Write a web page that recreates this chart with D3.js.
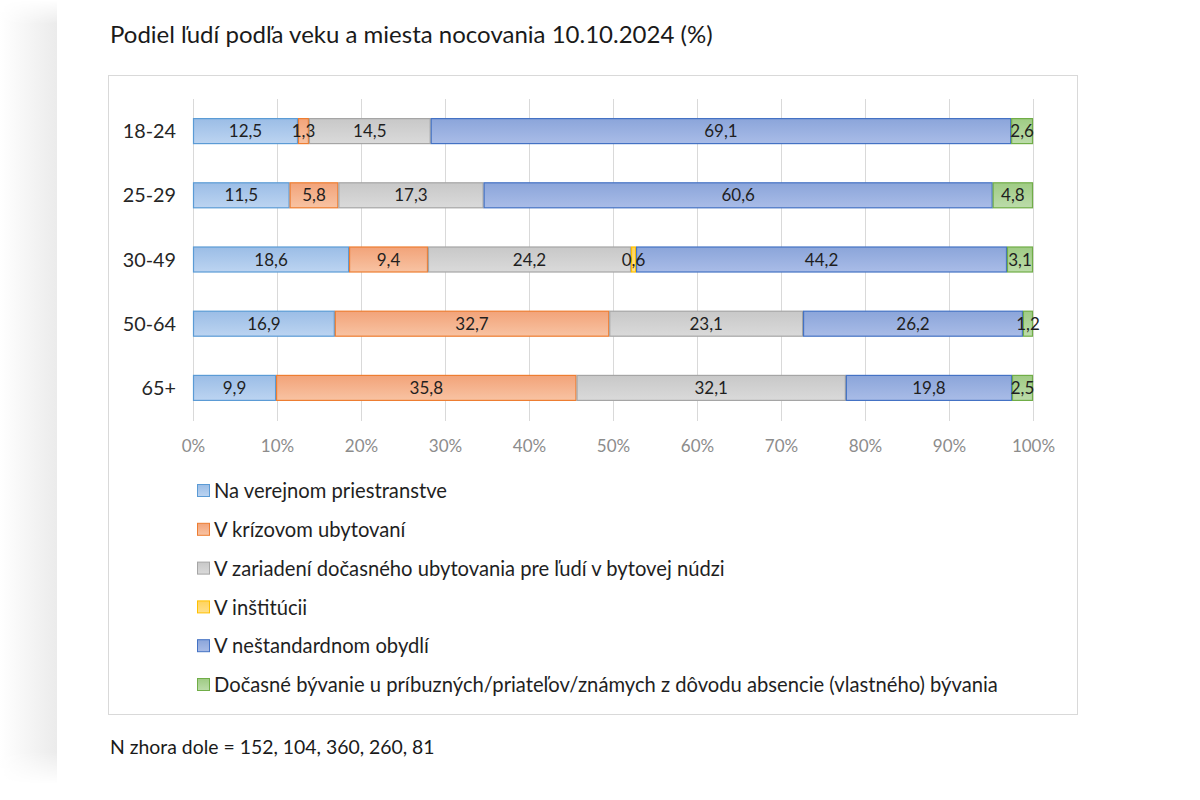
<!DOCTYPE html>
<html><head><meta charset="utf-8">
<script src="https://cdn.jsdelivr.net/npm/d3@7"></script>
<style>
html,body{margin:0;padding:0;background:#fff;}
svg{display:block;}
text{font-family:Lato,"Open Sans",sans-serif;}
</style></head>
<body>
<svg id="chart" width="1200" height="800"></svg>
<script>
const title = "Podiel ľudí podľa veku a miesta nocovania 10.10.2024 (%)";
const footnote = "N zhora dole = 152, 104, 360, 260, 81";
const categories = ["18-24","25-29","30-49","50-64","65+"];
const seriesNames = [
  "Na verejnom priestranstve",
  "V krízovom ubytovaní",
  "V zariadení dočasného ubytovania pre ľudí v bytovej núdzi",
  "V inštitúcii",
  "V neštandardnom obydlí",
  "Dočasné bývanie u príbuzných/priateľov/známych z dôvodu absencie (vlastného) bývania"
];
const verejne   = [12.5, 11.5, 18.6, 16.9, 9.9];
const krizove   = [1.3, 5.8, 9.4, 32.7, 35.8];
const zariadenie= [14.5, 17.3, 24.2, 23.1, 32.1];
const institucia= [0, 0, 0.6, 0, 0];
const nestandard= [69.1, 60.6, 44.2, 26.2, 19.8];
const docasne   = [2.6, 4.8, 3.1, 1.2, 2.5];
const xTicks = [0,0.1,0.2,0.3,0.4,0.5,0.6,0.7,0.8,0.9,1];

const fills  = [["#9bbde6","#bcd4f1"],["#f2a379","#f8c3a3"],["#c8c8c8","#dadada"],["#ffd35c","#ffe08c"],["#8ba5da","#a9bce7"],["#9fcb84","#bcdcaa"]];
const strokes= ["#5b9bd5","#ed7d31","#a5a5a5","#ffc000","#4472c4","#70ad47"];

const allSeries = [verejne,krizove,zariadenie,institucia,nestandard,docasne];
const keys = seriesNames.map((d,i)=>"s"+i);
const table = categories.map((c,ci)=>{
  const o={cat:c};
  allSeries.forEach((s,si)=>o["s"+si]=s[ci]);
  return o;
});

const svg = d3.select("#chart");
const defs = svg.append("defs");

// left page shadow
const sh = defs.append("linearGradient").attr("id","shadow").attr("x1","0").attr("x2","1").attr("y1","0").attr("y2","0");
sh.append("stop").attr("offset","0%").attr("stop-color","#ffffff");
sh.append("stop").attr("offset","50%").attr("stop-color","#f5f5f5");
sh.append("stop").attr("offset","100%").attr("stop-color","#ebebeb");
const shv = defs.append("linearGradient").attr("id","shadowV").attr("x1","0").attr("x2","0").attr("y1","0").attr("y2","1");
shv.append("stop").attr("offset","0%").attr("stop-color","#000");
shv.append("stop").attr("offset","3%").attr("stop-color","#fff");
shv.append("stop").attr("offset","94%").attr("stop-color","#fff");
shv.append("stop").attr("offset","98%").attr("stop-color","#000");
const mask = defs.append("mask").attr("id","m1");
mask.append("rect").attr("x",0).attr("y",0).attr("width",57).attr("height",800).attr("fill","url(#shadowV)");
svg.append("rect").attr("x",0).attr("y",0).attr("width",57).attr("height",800).attr("fill","url(#shadow)").attr("mask","url(#m1)");

fills.forEach((f,i)=>{
  const g = defs.append("linearGradient").attr("id","g"+i).attr("x1","0").attr("x2","0").attr("y1","0").attr("y2","1");
  g.append("stop").attr("offset","0%").attr("stop-color",f[0]);
  g.append("stop").attr("offset","100%").attr("stop-color",f[1]);
});

// title
svg.append("text").attr("x",110).attr("y",43).attr("font-size",24).attr("fill","#1a1a1a").text(title);

// chart box
svg.append("rect").attr("x",108.5).attr("y",75.5).attr("width",969).attr("height",639)
  .attr("fill","#fff").attr("stroke","#d9d9d9").attr("stroke-width",1);

const x = d3.scaleLinear().domain([0,1]).range([193,1033]);
const y = d3.scaleBand().domain(categories).range([99,420]).paddingInner(0.595).paddingOuter(0.2975);

// gridlines
svg.append("g").selectAll("line").data(xTicks).join("line")
  .attr("x1",d=>Math.round(x(d))+0.5).attr("x2",d=>Math.round(x(d))+0.5)
  .attr("y1",99).attr("y2",421)
  .attr("stroke","#d9d9d9").attr("stroke-width",1);

// x axis labels
const xAxis = d3.axisBottom(x).tickValues(xTicks).tickFormat(d3.format(".0%")).tickSize(0).tickPadding(0);
const xg = svg.append("g").attr("transform","translate(0,446)").call(xAxis);
xg.select(".domain").remove();
xg.selectAll("text").attr("font-family","Lato").attr("font-size",17).attr("fill","#8c8c8c").attr("dy","0.36em");

// y axis labels
const yAxis = d3.axisLeft(y).tickSize(0).tickPadding(0);
const yg = svg.append("g").attr("transform","translate(176,0)").call(yAxis);
yg.select(".domain").remove();
yg.selectAll("text").attr("font-family","Lato").attr("font-size",19.8).attr("fill","#262626").attr("dy","0.36em");

// stacks
const stack = d3.stack().keys(keys).offset(d3.stackOffsetExpand);
const layers = stack(table);
const fmt = v => String(v).replace(".",",");

layers.forEach((layer,li)=>{
  const g = svg.append("g");
  g.selectAll("rect").data(layer.filter(d=>d.data[layer.key]>0)).join("rect")
    .attr("x",d=>x(d[0])+0.5).attr("width",d=>Math.max(0,x(d[1])-x(d[0])-1))
    .attr("y",d=>y(d.data.cat)+0.5).attr("height",y.bandwidth()-1)
    .attr("fill","url(#g"+li+")").attr("stroke",strokes[li]).attr("stroke-width",1.2);
});
layers.forEach((layer,li)=>{
  svg.append("g").selectAll("text").data(layer.filter(d=>d.data[layer.key]>0)).join("text")
    .attr("x",d=>(x(d[0])+x(d[1]))/2).attr("y",d=>y(d.data.cat)+y.bandwidth()/2)
    .attr("dy","0.36em").attr("text-anchor","middle").attr("font-size",17).attr("fill","#1f1f1f")
    .text(d=>fmt(d.data[layer.key]));
});

// legend
const lg = svg.append("g");
const legY = d3.scalePoint().domain(seriesNames).range([491,685]);
seriesNames.forEach((n,i)=>{
  const yy = legY(n);
  lg.append("rect").attr("x",197.5).attr("y",yy-6.5).attr("width",12).attr("height",12)
    .attr("fill","url(#g"+i+")").attr("stroke",strokes[i]).attr("stroke-width",1);
  lg.append("text").attr("x",214).attr("y",yy).attr("dy","0.36em").attr("font-size",20.2).attr("fill","#1f1f1f").text(n);
});

// footnote
svg.append("text").attr("x",110).attr("y",747).attr("dy","0.36em").attr("font-size",19.4).attr("fill","#1a1a1a").text(footnote);
</script>
</body></html>
